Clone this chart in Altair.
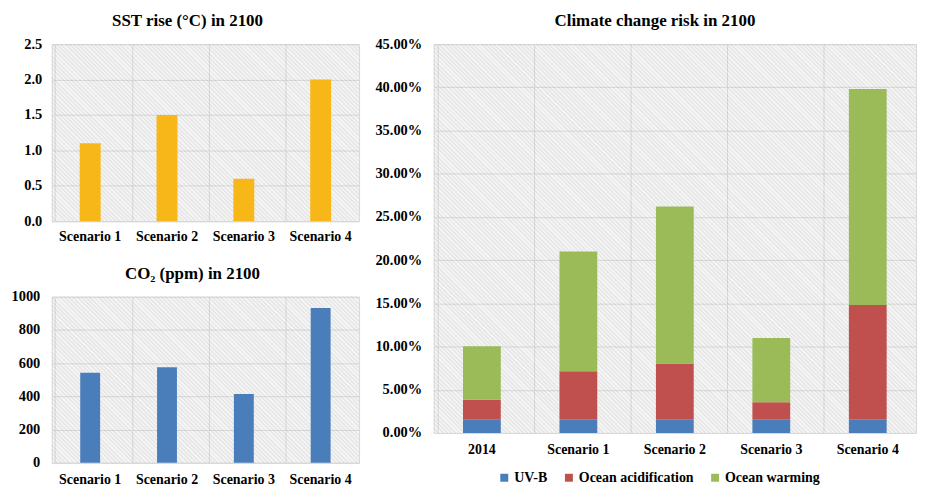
import math
import altair as alt
import pandas as pd

# ---------------- data ----------------
scenarios = ["Scenario 1", "Scenario 2", "Scenario 3", "Scenario 4"]
sst_rise = [1.1, 1.5, 0.6, 2.0]
co2_ppm = [542, 576, 415, 932]

risk_categories = ["2014", "Scenario 1", "Scenario 2", "Scenario 3", "Scenario 4"]
risk_series = ["UV-B", "Ocean acidification", "Ocean warming"]
uvb_risk = [0.016, 0.016, 0.016, 0.016, 0.016]
acidification_risk = [0.0225, 0.0555, 0.0645, 0.0195, 0.132]
warming_risk = [0.062, 0.1385, 0.1815, 0.0745, 0.250]

sst_ticks = [0, 0.5, 1.0, 1.5, 2.0, 2.5]
co2_ticks = [0, 200, 400, 600, 800, 1000]
risk_ticks = [0, 0.05, 0.10, 0.15, 0.20, 0.25, 0.30, 0.35, 0.40, 0.45]

# ---------------- style ----------------
FONT = "Liberation Serif"
GRID = "#d9d9d9"
SST_COLOR = "#F7B718"
CO2_COLOR = "#4A7EBB"
RISK_COLORS = ["#4A7EBB", "#C0504D", "#9BBB59"]


def hatch_fill(w, h, period=3.0, line="rgba(0,0,0,0.05)", bg="rgba(255,255,255,0)", frac=0.45):
    span = (w + h) / math.sqrt(2)
    n = max(1, int(round(span / period)))
    k = (w + h) / (w * w + h * h)
    stops = []
    for i in range(n):
        a = i / n
        b = (i + frac) / n
        c = (i + 1) / n
        stops += [
            {"offset": a, "color": line},
            {"offset": b, "color": line},
            {"offset": b, "color": bg},
            {"offset": c, "color": bg},
        ]
    return alt.LinearGradient(gradient="linear", x1=0, y1=1, x2=k * w, y2=1 - k * h, stops=stops)


def hatch_layer(w, h):
    return alt.Chart(pd.DataFrame({"bg": [0]})).mark_rect(
        fill=hatch_fill(w, h), strokeWidth=0
    ).encode(opacity=alt.value(1))


def x_axis(pad):
    return alt.Axis(title=None, labelAngle=0, grid=True, bandPosition=0, gridColor=GRID,
                    ticks=False, domainColor=GRID, labelFont=FONT, labelFontSize=14,
                    labelFontWeight="bold", labelColor="black", labelPadding=pad)


def y_axis(values, fmt, pad):
    return alt.Axis(title=None, values=values, format=fmt, ticks=False, domain=False,
                    gridColor=GRID, labelFont=FONT, labelFontSize=14.5, labelFontWeight="bold",
                    labelColor="black", labelPadding=pad)


def title(text, dx=0):
    return alt.TitleParams(text=text, font=FONT, fontSize=17, fontWeight="bold",
                           color="black", offset=6, dx=dx)


# ---------------- SST ----------------
W1, H1 = 309, 178
sst_df = pd.DataFrame({"cat": scenarios, "value": sst_rise})
sst_bars = alt.Chart(sst_df).mark_bar(color=SST_COLOR, size=21).encode(
    x=alt.X("cat:N", sort=scenarios, axis=x_axis(8)),
    y=alt.Y("value:Q", scale=alt.Scale(domain=[0, 2.5]), axis=y_axis(sst_ticks, ".1f", 10)),
)
sst = alt.layer(hatch_layer(W1, H1), sst_bars).properties(
    width=W1, height=H1, title=title("SST rise (°C) in 2100", dx=-18))

# ---------------- CO2 ----------------
W2, H2 = 309, 167
co2_df = pd.DataFrame({"cat": scenarios, "value": co2_ppm})
co2_bars = alt.Chart(co2_df).mark_bar(color=CO2_COLOR, size=20).encode(
    x=alt.X("cat:N", sort=scenarios, axis=x_axis(10)),
    y=alt.Y("value:Q", scale=alt.Scale(domain=[0, 1000]), axis=y_axis(co2_ticks, "d", 12)),
)
co2 = alt.layer(hatch_layer(W2, H2), co2_bars).properties(
    width=W2, height=H2, title=title("CO₂ (ppm) in 2100", dx=-13))

# ---------------- risk ----------------
W3, H3 = 485, 391
rows = []
for j, (name, vals) in enumerate(zip(risk_series, [uvb_risk, acidification_risk, warming_risk])):
    for cat, v in zip(risk_categories, vals):
        rows.append({"cat": cat, "series": name, "idx": j, "value": v})
risk_df = pd.DataFrame(rows)

risk_bars = alt.Chart(risk_df).mark_bar(size=38).encode(
    x=alt.X("cat:N", sort=risk_categories, axis=x_axis(10)),
    y=alt.Y("value:Q", stack="zero", scale=alt.Scale(domain=[0, 0.45]),
            axis=y_axis(risk_ticks, ".2%", 12)),
    color=alt.Color("series:N", scale=alt.Scale(domain=risk_series, range=RISK_COLORS),
                    legend=alt.Legend(title=None, orient="none", legendX=448, legendY=429,
                                      direction="horizontal", symbolType="square",
                                      symbolSize=64, symbolStrokeWidth=0, labelFont=FONT,
                                      labelFontSize=14, labelFontWeight="bold",
                                      labelColor="black", labelOffset=3, columnPadding=14)),
    order=alt.Order("idx:Q", sort="ascending"),
)
risk = alt.layer(hatch_layer(W3, H3), risk_bars).properties(
    width=W3, height=H3, title=title("Climate change risk in 2100", dx=-20))

left = alt.concat(sst, co2, columns=1, spacing=20, align="none")

chart = alt.hconcat(left, risk, spacing=14).properties(
    padding={"left": 2, "top": 2, "right": 0, "bottom": 0}
).configure(font=FONT).configure_view(fill="#f3f3f3", stroke=GRID)

chart.save("out.html", embed_options={"renderer": "svg", "actions": False})
